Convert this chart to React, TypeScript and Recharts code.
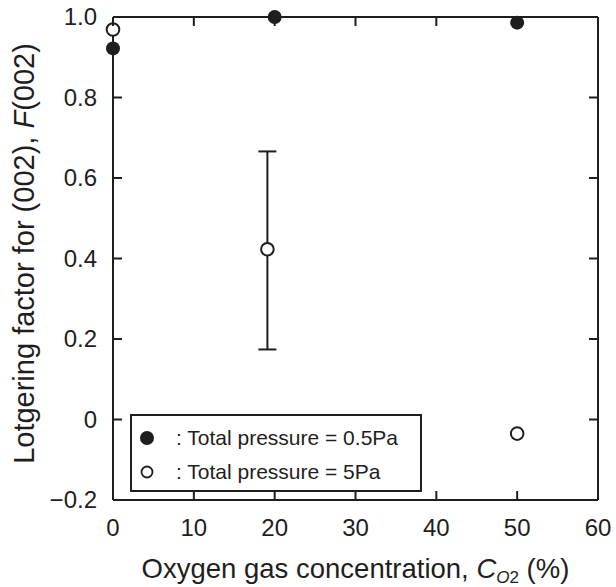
import React from 'react';
import { ScatterChart, Scatter, XAxis, YAxis, ErrorBar, Legend } from 'recharts';

// O2 concentration (%) and Lotgering factor F(002) for each sputtering pressure
const lowPressureX = [0, 20, 50];
const lowPressureF = [0.922, 1.0, 0.986];

const highPressureX = [0, 19.1, 50];
const highPressureF = [0.969, 0.423, -0.035];
// spread of F(002) below / above the mean (only measured at ~20 %)
const highPressureErrDown = [null, 0.249, null];
const highPressureErrUp = [null, 0.243, null];

const xTicks = [0, 10, 20, 30, 40, 50, 60];
const yTicks = [-0.2, 0, 0.2, 0.4, 0.6, 0.8, 1.0];

const legendLabels = [': Total pressure = 0.5Pa', ': Total pressure = 5Pa'];

const INK = '#1e1e1e';
const FONT = '"Liberation Sans", Arial, Helvetica, sans-serif';
const TICK_LEN = 9;

const lowData = lowPressureX.map((x, i) => ({ x, y: lowPressureF[i] }));
const highData = highPressureX.map((x, i) => ({
  x,
  y: highPressureF[i],
  err:
    highPressureErrDown[i] == null
      ? undefined
      : [highPressureErrDown[i] as number, highPressureErrUp[i] as number],
}));

const formatY = (v: number) => {
  if (Math.abs(v) < 1e-9) return '0';
  if (v < 0) return '\u2212' + Math.abs(v).toFixed(1);
  return v.toFixed(1);
};

const BottomTick = (props: any) => {
  const { x, y, payload } = props;
  return (
    <g>
      <line x1={x} x2={x} y1={y} y2={y - TICK_LEN} stroke={INK} strokeWidth={2} />
      <text x={x} y={y + 36} textAnchor="middle" fontSize={24} fill={INK} fontFamily={FONT}>
        {payload.value}
      </text>
    </g>
  );
};

const LeftTick = (props: any) => {
  const { x, y, payload } = props;
  return (
    <g>
      <line x1={x} x2={x + TICK_LEN} y1={y} y2={y} stroke={INK} strokeWidth={2} />
      <text x={x - 16} y={y + 8} textAnchor="end" fontSize={24} fill={INK} fontFamily={FONT}>
        {formatY(payload.value)}
      </text>
    </g>
  );
};

// mirrored axes only carry inward tick marks
const TopTick = (props: any) => {
  const { x, y } = props;
  return <line x1={x} x2={x} y1={y} y2={y + TICK_LEN} stroke={INK} strokeWidth={2} />;
};

const RightTick = (props: any) => {
  const { x, y } = props;
  return <line x1={x - TICK_LEN} x2={x} y1={y} y2={y} stroke={INK} strokeWidth={2} />;
};

const FilledDot = (props: any) => {
  const { cx, cy } = props;
  return <circle cx={cx} cy={cy} r={7} fill={INK} />;
};

const OpenDot = (props: any) => {
  const { cx, cy } = props;
  return <circle cx={cx} cy={cy} r={6.3} fill="#fff" stroke={INK} strokeWidth={2} />;
};

const XTitle = (props: any) => {
  const { viewBox } = props;
  const cx = viewBox.x + viewBox.width / 2;
  return (
    <text x={cx} y={578} textAnchor="middle" fontSize={27.5} fill={INK} fontFamily={FONT}>
      Oxygen gas concentration, <tspan fontStyle="italic">C</tspan>
      <tspan fontStyle="italic" fontSize={17} dy={5}>O</tspan>
      <tspan fontSize={17}>2</tspan>
      <tspan dy={-5}> (%)</tspan>
    </text>
  );
};

const YTitle = (props: any) => {
  const { viewBox } = props;
  const cy = viewBox.y + viewBox.height / 2 - 5;
  return (
    <text
      x={34}
      y={cy}
      transform={`rotate(-90, 34, ${cy})`}
      textAnchor="middle"
      fontSize={29}
      fill={INK}
      fontFamily={FONT}
    >
      Lotgering factor for (002), <tspan fontStyle="italic">F</tspan>(002)
    </text>
  );
};

const LegendBox = () => (
  <div
    style={{
      width: 292,
      height: 78,
      border: `2px solid ${INK}`,
      background: '#fff',
      boxSizing: 'border-box',
      fontFamily: FONT,
      fontSize: 21,
      color: INK,
      paddingTop: 5,
    }}
  >
    {legendLabels.map((label, i) => (
      <div key={label} style={{ display: 'flex', alignItems: 'center', height: 34 }}>
        <svg width={44} height={34} style={{ flexShrink: 0 }}>
          {i === 0 ? (
            <circle cx={15} cy={17} r={7} fill={INK} />
          ) : (
            <circle cx={15} cy={17} r={5.5} fill="#fff" stroke={INK} strokeWidth={1.8} />
          )}
        </svg>
        <span style={{ whiteSpace: 'nowrap' }}>{label}</span>
      </div>
    ))}
  </div>
);

export default function App() {
  return (
    <div style={{ position: 'absolute', left: 0, top: 0, width: 616, height: 587, background: '#fff' }}>
      <ScatterChart width={616} height={587} margin={{ top: 16, right: 17, bottom: 0, left: 0 }}>
        <XAxis
          xAxisId="bottom"
          dataKey="x"
          type="number"
          domain={[0, 60]}
          ticks={xTicks}
          height={87}
          tickLine={false}
          tickSize={0}
          tickMargin={0}
          tick={<BottomTick />}
          axisLine={{ stroke: INK, strokeWidth: 2 }}
          interval={0}
          label={<XTitle />}
        />
        <XAxis
          xAxisId="top"
          dataKey="x"
          orientation="top"
          type="number"
          domain={[0, 60]}
          ticks={xTicks}
          height={1}
          tickLine={false}
          tickSize={0}
          tickMargin={0}
          tick={<TopTick />}
          axisLine={{ stroke: INK, strokeWidth: 2 }}
          interval={0}
        />
        <YAxis
          yAxisId="left"
          dataKey="y"
          type="number"
          domain={[-0.2, 1.0]}
          ticks={yTicks}
          width={113}
          tickLine={false}
          tickSize={0}
          tickMargin={0}
          tick={<LeftTick />}
          axisLine={{ stroke: INK, strokeWidth: 2 }}
          interval={0}
          label={<YTitle />}
        />
        <YAxis
          yAxisId="right"
          dataKey="y"
          orientation="right"
          type="number"
          domain={[-0.2, 1.0]}
          ticks={yTicks}
          width={1}
          tickLine={false}
          tickSize={0}
          tickMargin={0}
          tick={<RightTick />}
          axisLine={{ stroke: INK, strokeWidth: 2 }}
          interval={0}
        />
        <Legend
          layout="vertical"
          align="center"
          verticalAlign="middle"
          content={<LegendBox />}
          wrapperStyle={{ left: 130, top: 414, width: 292, height: 78 }}
        />
        <Scatter
          name="Total pressure = 0.5Pa"
          data={lowData}
          xAxisId="bottom"
          yAxisId="left"
          shape={<FilledDot />}
          isAnimationActive={false}
        />
        {/* the 5 Pa series sits on the mirrored axes; both pairs share the same scale */}
        <Scatter
          name="Total pressure = 5Pa"
          data={highData}
          xAxisId="top"
          yAxisId="right"
          shape={<OpenDot />}
          isAnimationActive={false}
        >
          <ErrorBar dataKey="err" direction="y" width={9} stroke={INK} strokeWidth={2} isAnimationActive={false} />
        </Scatter>
      </ScatterChart>
    </div>
  );
}
